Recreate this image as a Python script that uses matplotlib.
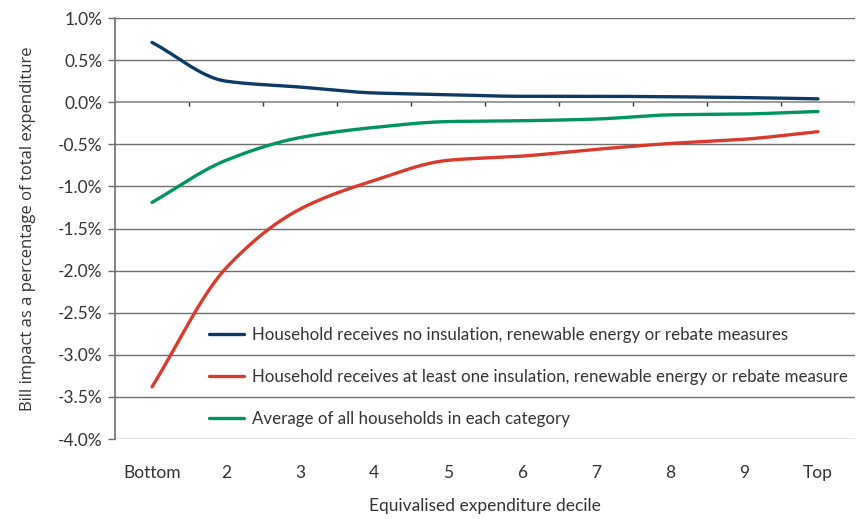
import numpy as np
import matplotlib
matplotlib.use("Agg")
import matplotlib.pyplot as plt

categories = ["Bottom", "2", "3", "4", "5", "6", "7", "8", "9", "Top"]
no_measures = [0.71, 0.25, 0.18, 0.11, 0.09, 0.07, 0.07, 0.065, 0.055, 0.04]
with_measure = [-3.38, -1.97, -1.27, -0.93, -0.69, -0.64, -0.56, -0.49, -0.44, -0.35]
average_all = [-1.19, -0.69, -0.42, -0.30, -0.23, -0.22, -0.20, -0.15, -0.14, -0.11]
series_labels = [
    "Household receives no insulation, renewable energy or rebate measures",
    "Household receives at least one insulation, renewable energy or rebate measure",
    "Average of all households in each category",
]
colors = ["#0d3b66", "#d93a2b", "#00955f"]
yticks = np.arange(-4.0, 1.01, 0.5)

plt.rcParams['font.family'] = ['Lato', 'DejaVu Sans']


def pchip(x, y, xn):
    x = np.asarray(x, float); y = np.asarray(y, float)
    h = np.diff(x); d = np.diff(y) / h
    m = np.zeros_like(y)
    for k in range(1, len(x) - 1):
        if d[k - 1] * d[k] > 0:
            w1 = 2 * h[k] + h[k - 1]; w2 = h[k] + 2 * h[k - 1]
            m[k] = (w1 + w2) / (w1 / d[k - 1] + w2 / d[k])
    m[0] = d[0]; m[-1] = d[-1]
    idx = np.clip(np.searchsorted(x, xn) - 1, 0, len(x) - 2)
    t = (xn - x[idx]) / h[idx]
    h00 = 2 * t**3 - 3 * t**2 + 1; h10 = t**3 - 2 * t**2 + t
    h01 = -2 * t**3 + 3 * t**2; h11 = t**3 - t**2
    return h00 * y[idx] + h10 * h[idx] * m[idx] + h01 * y[idx + 1] + h11 * h[idx] * m[idx + 1]


fig = plt.figure(figsize=(8.61, 5.19), dpi=100)
ax = fig.add_axes([0.1336, 0.1541, 0.993 - 0.1336, 0.9653 - 0.1541])

x = np.arange(1, len(categories) + 1)
xs = np.linspace(x[0], x[-1], 400)

for yv in yticks:
    if abs(yv) > 1e-9:
        ax.axhline(yv, color="#6e6e6e", lw=1.0, zorder=1)
ax.axhline(0, color="#8a8a8a", lw=1.2, zorder=1)
ax.vlines(np.arange(1.5, len(categories) + 0.6, 1), -0.05, 0, color="#333333", lw=1.0, zorder=1)

for vals, c, lab in zip([no_measures, with_measure, average_all], colors, series_labels):
    ax.plot(xs, pchip(x, vals, xs), color=c, lw=2.4, solid_capstyle="round", label=lab, zorder=3)

ax.set_xlim(0.5, len(categories) + 0.5)
ax.set_ylim(-4.0, 1.0)
ax.set_yticks(yticks)
ax.set_yticklabels([f"{v:.1f}%" for v in yticks])
ax.set_xticks(x)
ax.set_xticklabels(categories)
ax.tick_params(axis="x", length=0, pad=19, labelsize=12.5, labelcolor="#333333")
ax.tick_params(axis="y", length=5, width=1, color="#6e6e6e", labelsize=12.5, labelcolor="#333333", pad=4)
for s in ["top", "right", "bottom"]:
    ax.spines[s].set_visible(False)
ax.spines["left"].set_color("#6e6e6e")
ax.spines["left"].set_linewidth(1.2)

ax.set_xlabel("Equivalised expenditure decile", fontsize=12.5, color="#333333", labelpad=12)
ax.set_ylabel("Bill impact as a percentage of total expenditure", fontsize=12, color="#333333",
              labelpad=16, family=['Open Sans', 'DejaVu Sans'])

leg = ax.legend(loc="lower left", bbox_to_anchor=(0.107, -0.008), frameon=False, fontsize=12.2,
                handlelength=2.05, labelspacing=1.55, handletextpad=0.45)
for t in leg.get_texts():
    t.set_color("#333333")

fig.savefig("out.png", dpi=100)
